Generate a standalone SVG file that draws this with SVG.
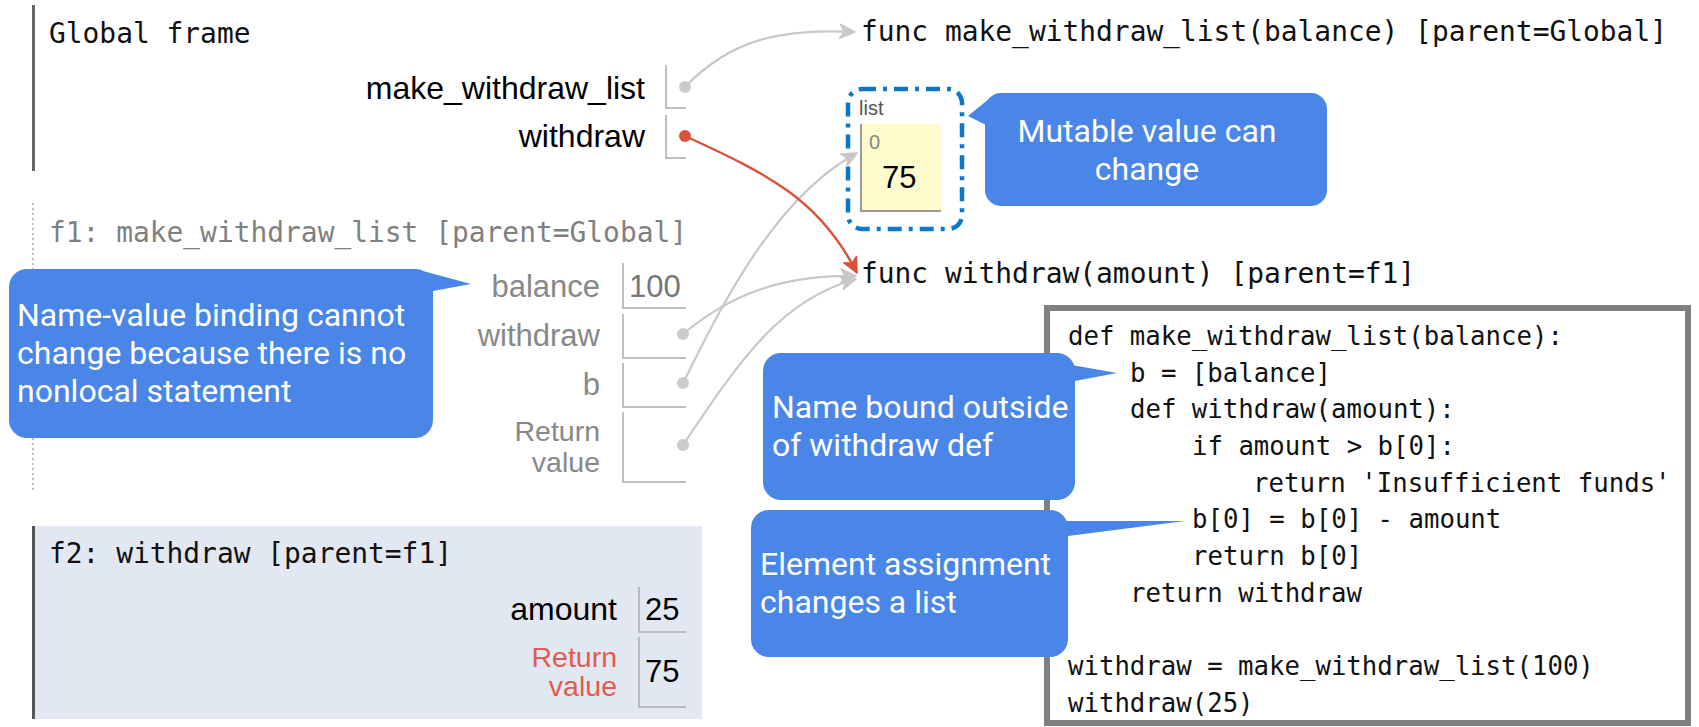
<svg xmlns="http://www.w3.org/2000/svg" width="1699" height="727" viewBox="0 0 1699 727">
<defs>
<style>
.mono{font-family:"DejaVu Sans Mono","Liberation Mono",monospace;font-size:27.9px;fill:#111}
.lab{font-family:"Liberation Sans",Arial,sans-serif;text-anchor:end}
.val{font-family:"Liberation Sans",Arial,sans-serif}
.box{fill:none;stroke:#aaa;stroke-width:1.5}
.call{fill:#4a86e8}
.ct{font-family:Roboto,"Liberation Sans",sans-serif;font-size:32px;fill:#fff}
.code{font-family:"DejaVu Sans Mono","Liberation Mono",monospace;font-size:25.7px;fill:#111}
.conn{fill:none;stroke:#c8c8c8;stroke-width:2.2}
.red{fill:none;stroke:#d9533a;stroke-width:2.4}
</style>
<marker id="ag" viewBox="0 0 20 20" refX="17" refY="10" markerWidth="20" markerHeight="20" markerUnits="userSpaceOnUse" orient="auto">
<path d="M2,3 L17,10 L2,17 L6,10 z" fill="#c8c8c8" stroke="#c8c8c8" stroke-width="1.5" stroke-linejoin="round"/>
</marker>
<marker id="ar" viewBox="0 0 20 20" refX="17" refY="10" markerWidth="20" markerHeight="20" markerUnits="userSpaceOnUse" orient="auto">
<path d="M2,3 L17,10 L2,17 L6,10 z" fill="#d9533a" stroke="#d9533a" stroke-width="1.5" stroke-linejoin="round"/>
</marker>
</defs>
<rect width="1699" height="727" fill="#fff"/>

<g id="global-frame">
<line x1="33.5" y1="5" x2="33.5" y2="171" stroke="#666" stroke-width="3"/>
<text class="mono" x="49" y="43">Global frame</text>
<text class="lab" x="645" y="99" font-size="32">make_withdraw_list</text>
<polyline class="box" points="666,65 666,108 686,108"/>
<circle cx="685" cy="87" r="6" fill="#ccc"/>
<text class="lab" x="645" y="147" font-size="32">withdraw</text>
<polyline class="box" points="666,115 666,158 686,158"/>
<circle cx="685" cy="136" r="6" fill="#d9533a"/>
</g>

<g id="f1-frame">
<line x1="33" y1="203" x2="33" y2="493" stroke="#aaa" stroke-width="1.5" stroke-dasharray="2 3"/>
<text class="mono" x="49" y="242" style="fill:#808080">f1: make_withdraw_list [parent=Global]</text>
<text class="lab" x="600" y="297" font-size="31" fill="#888">balance</text>
<polyline class="box" points="623,263 623,308 686,308"/>
<text class="val" x="629" y="297" font-size="31" fill="#777">100</text>
<text class="lab" x="600" y="346" font-size="31" fill="#888">withdraw</text>
<polyline class="box" points="623,314 623,358 686,358"/>
<circle cx="683" cy="334" r="6" fill="#ccc"/>
<text class="lab" x="600" y="395" font-size="31" fill="#888">b</text>
<polyline class="box" points="623,363 623,407 686,407"/>
<circle cx="683" cy="383" r="6" fill="#ccc"/>
<text class="lab" x="600" y="441" font-size="28.5" fill="#888">Return</text>
<text class="lab" x="600" y="472" font-size="28.5" fill="#888">value</text>
<polyline class="box" points="623,412 623,482 686,482"/>
<circle cx="683" cy="445" r="6" fill="#ccc"/>
</g>

<g id="f2-frame">
<rect x="33" y="526" width="669" height="193" fill="#e2e8f1"/>
<line x1="33.5" y1="526" x2="33.5" y2="719" stroke="#555" stroke-width="3"/>
<text class="mono" x="49" y="563">f2: withdraw [parent=f1]</text>
<text class="lab" x="617" y="620" font-size="32" fill="#000">amount</text>
<polyline class="box" points="639,587 639,632 686,632"/>
<text class="val" x="645" y="620" font-size="31" fill="#000">25</text>
<text class="lab" x="617" y="667" font-size="28.5" fill="#e05c4c">Return</text>
<text class="lab" x="617" y="696" font-size="28.5" fill="#e05c4c">value</text>
<polyline class="box" points="639,637 639,707 686,707"/>
<text class="val" x="645" y="682" font-size="31" fill="#000">75</text>
</g>

<g id="func-make-withdraw-list">
<text class="mono" x="861" y="41">func make_withdraw_list(balance) [parent=Global]</text>
</g>

<g id="list-object">
<text class="val" x="859" y="115" font-size="20" fill="#555">list</text>
<rect x="860" y="124" width="81" height="87" fill="#fdfacb"/>
<polyline points="861,124 861,211 941,211" fill="none" stroke="#999" stroke-width="2"/>
<text class="val" x="869" y="149" font-size="20" fill="#888">0</text>
<text class="val" x="882" y="188" font-size="31" fill="#000">75</text>
<rect x="848" y="89" width="114" height="140" rx="14" fill="none" stroke="#0b78c9" stroke-width="4.5" stroke-dasharray="14 7 4 7"/>
</g>

<g id="func-withdraw">
<text class="mono" x="861" y="283">func withdraw(amount) [parent=f1]</text>
</g>

<g id="callout-mutable">
<rect class="call" x="985" y="93" width="342" height="113" rx="16"/>
<polygon class="call" points="990,98 968,116 986,125"/>
<text class="ct" x="1147" y="142" text-anchor="middle">Mutable value can</text>
<text class="ct" x="1147" y="180" text-anchor="middle">change</text>
</g>

<g id="callout-binding">
<rect class="call" x="9" y="269" width="424" height="169" rx="18"/>
<polygon class="call" points="423,271 471,284 433,291"/>
<text class="ct" x="17" y="326">Name-value binding cannot</text>
<text class="ct" x="17" y="364">change because there is no</text>
<text class="ct" x="17" y="402">nonlocal statement</text>
</g>

<g id="code-box">
<rect x="1047" y="308" width="641" height="415" fill="#fff" stroke="#808080" stroke-width="6"/>
<text class="code" x="1068" y="345">def make_withdraw_list(balance):</text>
<text class="code" x="1130" y="382">b = [balance]</text>
<text class="code" x="1130" y="418">def withdraw(amount):</text>
<text class="code" x="1192" y="455">if amount &gt; b[0]:</text>
<text class="code" x="1253" y="492">return 'Insufficient funds'</text>
<text class="code" x="1192" y="528">b[0] = b[0] - amount</text>
<text class="code" x="1192" y="565">return b[0]</text>
<text class="code" x="1130" y="602">return withdraw</text>
<text class="code" x="1068" y="675">withdraw = make_withdraw_list(100)</text>
<text class="code" x="1068" y="712">withdraw(25)</text>
</g>

<g id="callout-name-bound">
<rect class="call" x="763" y="353" width="312" height="147" rx="18"/>
<polygon class="call" points="1066,364 1117,373 1075,381"/>
<text class="ct" x="772" y="418">Name bound outside</text>
<text class="ct" x="772" y="456">of withdraw def</text>
</g>

<g id="callout-element">
<rect class="call" x="751" y="510" width="317" height="147" rx="18"/>
<polygon class="call" points="1056,521 1185,521 1068,536"/>
<text class="ct" x="760" y="575">Element assignment</text>
<text class="ct" x="760" y="613">changes a list</text>
</g>

<g id="connectors">
<path class="conn" d="M685,87 C730,40 780,28 855,32" marker-end="url(#ag)"/>
<path class="conn" d="M683,334 C730,295 780,275 856,276" marker-end="url(#ag)"/>
<path class="conn" d="M683,383 C715,320 770,200 857,153" marker-end="url(#ag)"/>
<path class="conn" d="M683,445 C740,360 780,300 856,279" marker-end="url(#ag)"/>
<path class="red" d="M685,136 C770,175 820,200 857,273" marker-end="url(#ar)"/>
</g>
</svg>
